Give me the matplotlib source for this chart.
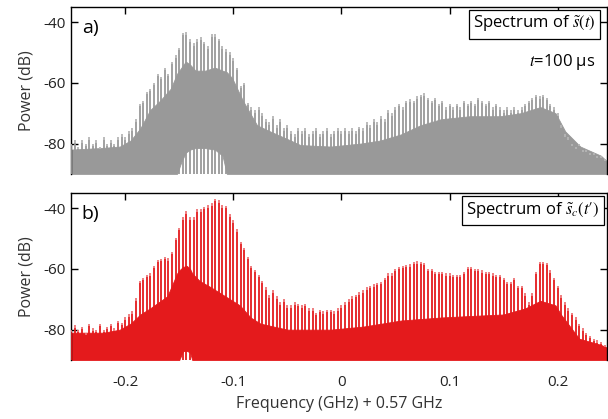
"""Comb spectra of s(t) and s_c(t') versus frequency offset, two stacked panels."""

import numpy as np
import matplotlib
matplotlib.use("Agg")
import matplotlib.pyplot as plt

plt.rcParams['font.family'] = ['Open Sans', 'DejaVu Sans']
plt.rcParams['mathtext.fontset'] = 'stix'
plt.rcParams['axes.unicode_minus'] = False

# comb lines sit on a 1/300 GHz grid, index -75 ... 73
COMB_SPACING = 1.0 / 300
comb_index = np.arange(-75, 74)

# peak height of each comb line (dB), panel a
teeth_a = [
    -80, -79, -81, -79, -80, -78, -80, -79, -81, -78,
    -80, -79, -80, -78, -77, -78, -76, -75, -72, -67,
    -66, -63, -62, -60, -57, -58, -55, -57, -53, -51,
    -48.5, -43.5, -43.3, -45.7, -47, -45.7, -45, -46.5, -48, -44,
    -44, -45.5, -48, -49, -50, -52, -55, -61, -60, -66.5,
    -68, -69, -68, -70, -72, -73, -71, -74, -72, -75,
    -74, -76, -77, -75, -76, -75, -77, -76, -75, -77,
    -76, -75, -77, -76, -75, -76, -75, -76, -75, -76,
    -74.5, -75, -73, -74, -72, -73, -71, -72, -69, -70,
    -68, -67, -68, -66, -65.5, -66, -64.5, -64, -63.5, -65,
    -66, -65, -67, -66, -68, -67, -68, -67, -68, -66,
    -67, -66, -67, -65, -66, -67, -66, -68, -67, -68,
    -69, -68, -69, -68, -69, -68, -67, -66, -65, -64,
    -64.5, -64, -65, -67, -68, -70, -74, -77, -78, -80,
    -81, -80, -82, -82, -83, -83, -84, -84, -85,
]

# peak height of each comb line (dB), panel b
teeth_b = [
    -80, -78.5, -80, -79, -81, -78, -79.5, -80, -78, -80,
    -79, -78, -79.5, -77, -77.7, -76, -75, -74, -69.7, -64,
    -63, -62, -61.4, -59, -57, -56.7, -56, -56.5, -54.3, -49.7,
    -46.4, -43, -41, -43, -43, -40.3, -40.3, -39.6, -39, -38.4,
    -37, -37.4, -39, -39.3, -42, -44, -47, -51, -53, -56,
    -59, -60.3, -62, -64, -66, -68.7, -67, -69, -71, -70,
    -72, -72, -71, -71.5, -72, -71.5, -73, -73, -74.5, -73.5,
    -74, -73.5, -73.5, -74, -73, -72, -71, -70, -69, -68.5,
    -67.7, -67, -66, -65.5, -65, -64.5, -64.3, -63, -61.5, -61.5,
    -60, -59.3, -59, -58.7, -58.5, -57.7, -57.5, -57.7, -58, -60,
    -60, -61, -61, -61, -61.5, -61.5, -62, -62, -62, -61,
    -59.3, -59.3, -60, -60, -60.5, -61, -61, -61.5, -62, -62,
    -63, -64.3, -64.3, -63, -65.5, -65.5, -68, -71, -68, -61,
    -57.7, -57.7, -58, -60.5, -63, -65.5, -68.7, -71, -73, -74.5,
    -76, -78, -79.5, -81, -82, -83, -83.5, -84, -85,
]

# dense noise band between the comb lines: upper and lower edge (dB)
noise_freq_a = [-0.250, -0.223, -0.205, -0.195, -0.186, -0.177, -0.168, -0.158,
                -0.152, -0.148, -0.144, -0.140, -0.135, -0.126, -0.117, -0.110,
                -0.106, -0.101, -0.091, -0.078, -0.066, -0.047, -0.038, -0.010,
                0.018, 0.036, 0.055, 0.073, 0.092, 0.119, 0.147, 0.166, 0.184,
                0.198, 0.207, 0.221, 0.240, 0.246]
noise_top_a = [-82, -81.5, -81, -79, -75, -69, -66, -62,
               -57, -55, -53, -54, -56, -56, -55, -56,
               -56.5, -58.5, -66, -74, -76, -79, -80.5, -81,
               -80, -79, -77, -74, -72, -71, -71, -70, -68,
               -70, -76, -81, -84, -86]
noise_low_a = [-90, -90, -90, -90, -90, -90, -90, -90,
               -90, -86, -83, -82, -81.5, -81.5, -82, -84,
               -90, -90, -90, -90, -90, -90, -90, -90,
               -90, -90, -90, -90, -90, -90, -90, -90, -90,
               -90, -90, -90, -90, -90]

noise_freq_b = [-0.250, -0.220, -0.205, -0.195, -0.186, -0.177, -0.161, -0.152,
                -0.150, -0.147, -0.146, -0.143, -0.140, -0.138, -0.131, -0.121,
                -0.112, -0.103, -0.094, -0.084, -0.075, -0.050, -0.010, 0.020,
                0.055, 0.092, 0.120, 0.150, 0.170, 0.184, 0.198, 0.203, 0.220,
                0.240, 0.246]
noise_top_b = [-81, -81, -80, -78, -75, -73, -69, -61.5,
               -60.5, -59.5, -59.3, -59, -60, -61.5, -64, -66,
               -68, -70, -72, -76, -78, -80, -80, -79,
               -77, -76, -75.5, -75, -73, -70.5, -72, -75, -83,
               -85, -86]
noise_low_b = [-90, -90, -90, -90, -90, -90, -90, -90,
               -90, -87.5, -87, -87, -87.5, -90, -90, -90,
               -90, -90, -90, -90, -90, -90, -90, -90,
               -90, -90, -90, -90, -90, -90, -90, -90, -90,
               -90, -90]

X_TICKS = [-0.2, -0.1, 0, 0.1, 0.2]
X_TICK_LABELS = ['-0.2', '-0.1', '0', '0.1', '0.2']
Y_TICKS = [-80, -60, -40]
Y_TICK_LABELS = ['-80', '-60', '-40']

FLOOR = -90
GRAY = '#999999'
GRAY_LIGHT = '#b5b5b5'
RED = '#e41a1c'
RED_LIGHT = '#ee7476'


def draw_spectrum(ax, teeth, nf, ntop, nlow, color, light):
    freqs = comb_index * COMB_SPACING
    teeth = np.asarray(teeth)
    ax.fill_between(nf, nlow, ntop, color=color, lw=0.6, edgecolor=color, zorder=1)
    ax.vlines(freqs, FLOOR, teeth - 0.8, colors=color, lw=1.3, zorder=3)
    ax.vlines(freqs, teeth - 0.8, teeth, colors=light, lw=1.3, zorder=3)


def style_axes(ax):
    ax.set_xlim(-0.25, 0.246)
    ax.set_ylim(FLOOR, -35)
    ax.set_xticks(X_TICKS)
    ax.set_yticks(Y_TICKS)
    ax.set_yticklabels(Y_TICK_LABELS)
    ax.tick_params(direction='in', length=5, width=1, top=True, right=True,
                   bottom=False, labelsize=11, pad=4, labelcolor='#222222')
    ax.tick_params(axis='x', pad=11)
    ax.spines['bottom'].set_visible(False)
    for side in ('top', 'left', 'right'):
        ax.spines[side].set_linewidth(1.0)
    ax.set_ylabel('Power (dB)', fontsize=11.5, color='#333333', labelpad=6)


fig = plt.figure(figsize=(6.08, 4.19), dpi=100)
ax_a = fig.add_axes([0.117, 0.585, 0.882, 0.3986])
ax_b = fig.add_axes([0.117, 0.1408, 0.882, 0.3986])

draw_spectrum(ax_a, teeth_a, noise_freq_a, noise_top_a, noise_low_a, GRAY, GRAY_LIGHT)
draw_spectrum(ax_b, teeth_b, noise_freq_b, noise_top_b, noise_low_b, RED, RED_LIGHT)

for ax in (ax_a, ax_b):
    style_axes(ax)

ax_a.set_xticklabels([])
ax_b.set_xticklabels(X_TICK_LABELS)
ax_b.set_xlabel('Frequency (GHz) + 0.57 GHz', fontsize=11.5, color='#333333', labelpad=4)

box = dict(boxstyle='square,pad=0.25', fc='white', ec='black', lw=0.9)
ax_a.text(0.978, 0.955, r'Spectrum of $\tilde{s}(t)$', transform=ax_a.transAxes,
          ha='right', va='top', fontsize=12, bbox=box, zorder=5)
ax_a.text(0.978, 0.67, r'$t$=100 µs', transform=ax_a.transAxes,
          ha='right', va='center', fontsize=12, zorder=5)
ax_b.text(0.985, 0.955, r'Spectrum of $\tilde{s}_c(t′)$', transform=ax_b.transAxes,
          ha='right', va='top', fontsize=12, bbox=box, zorder=5)

ax_a.text(0.02, 0.93, 'a)', transform=ax_a.transAxes, ha='left', va='top', fontsize=14)
ax_b.text(0.02, 0.93, 'b)', transform=ax_b.transAxes, ha='left', va='top', fontsize=14)

fig.savefig('out.png', dpi=100)
